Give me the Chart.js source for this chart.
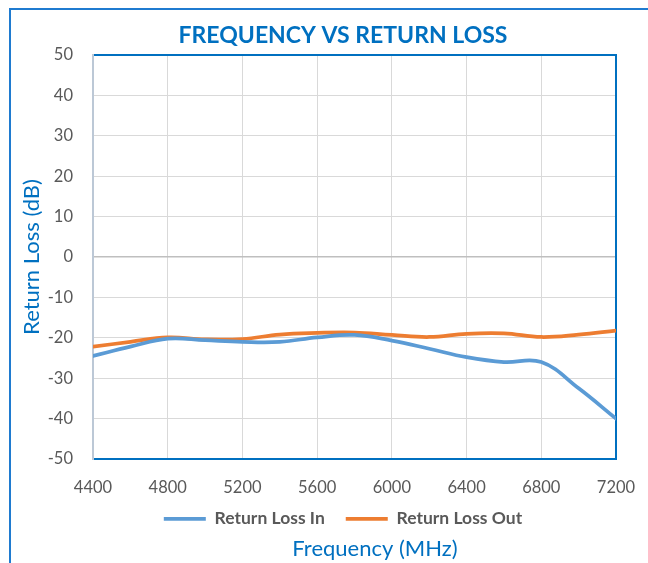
<!DOCTYPE html>
<html>
<head>
<meta charset="utf-8">
<script src="https://cdn.jsdelivr.net/npm/chart.js@4/dist/chart.umd.min.js"></script>
<style>
  html, body { margin: 0; padding: 0; overflow: hidden; background: #ffffff; width: 648px; height: 563px; }
  #wrap { position: absolute; left: 9px; top: 8px; width: 664px; height: 553px;
          border-left: 2px solid #1F7BD0; border-top: 2px solid #1F7BD0; }
  #wrap canvas { display: block; }
</style>
</head>
<body>
<div id="wrap"><canvas id="c"></canvas></div>
<script>
// ---- data ----
const chartTitle = "FREQUENCY VS RETURN LOSS";
const xAxisTitle = "Frequency (MHz)";
const yAxisTitle = "Return Loss (dB)";
const seriesNames = ["Return Loss In", "Return Loss Out"];
const frequencies = [4400, 4600, 4800, 5000, 5200, 5400, 5600, 5800, 6000, 6200, 6400, 6600, 6800, 7000, 7200];
const returnLossIn  = [-24.5, -22.2, -20.2, -20.6, -21.0, -21.0, -19.9, -19.3, -20.7, -22.7, -24.8, -26.0, -26.0, -32.5, -40.0];
const returnLossOut = [-22.2, -21.0, -19.9, -20.4, -20.3, -19.2, -18.8, -18.7, -19.3, -19.8, -19.0, -18.9, -19.8, -19.2, -18.2];
const xTicks = { min: 4400, max: 7200, step: 400 };
const yTicks = { min: -50, max: 50, step: 10 };

const BLUE = "#0070C0";
const GRAY = "#595959";

const toPoints = (vals) => frequencies.map((f, i) => ({ x: f, y: vals[i] }));

const shiftSubtitle = {
  id: "shiftSubtitle",
  afterLayout(chart) {
    chart.boxes.forEach(b => {
      if (b.options && b.options.text === xAxisTitle && b.options.position === "bottom" && b.legendItems === undefined && b.type === undefined) {
        b.left += 32; b.right += 32;
      }
    });
  }
};

new Chart(document.getElementById("c"), {
  type: "line",
  data: {
    datasets: [
      { label: seriesNames[0], data: toPoints(returnLossIn), borderColor: "#5B9BD5", backgroundColor: "#5B9BD5",
        borderWidth: 3.75, pointRadius: 0, tension: 0.4, borderCapStyle: "round", borderJoinStyle: "round" },
      { label: seriesNames[1], data: toPoints(returnLossOut), borderColor: "#ED7D31", backgroundColor: "#ED7D31",
        borderWidth: 3.75, pointRadius: 0, tension: 0.4, borderCapStyle: "round", borderJoinStyle: "round" }
    ]
  },
  options: {
    responsive: true,
    maintainAspectRatio: false,
    animation: false,
    layout: { padding: 0 },
    plugins: {
      tooltip: { enabled: false },
      title: {
        display: true, text: chartTitle, color: BLUE,
        font: { family: "Lato", size: 23, weight: "bold", lineHeight: 1.2 },
        padding: { top: 12, bottom: 5.4 }
      },
      subtitle: {
        display: true, text: xAxisTitle, position: "bottom", color: BLUE,
        font: { family: "Lato", size: 22, weight: "normal", lineHeight: 1 },
        padding: { top: 0, bottom: 3.5 }
      },
      legend: {
        position: "bottom",
        labels: {
          usePointStyle: true, pointStyle: "line", pointStyleWidth: 42,
          boxHeight: 17.5, padding: 21, color: GRAY,
          font: { family: "Lato", size: 17.5, weight: "bold" }
        }
      }
    },
    scales: {
      x: {
        type: "linear", position: "bottom", min: xTicks.min, max: xTicks.max,
        afterFit(s) { s.height = 30; s._computeLabelArea = () => undefined; },
        ticks: { stepSize: xTicks.step, color: GRAY, padding: 19, font: { family: "Lato", size: 16.5 },
                 callback: v => String(v), maxRotation: 0 },
        grid: { color: "#D9D9D9", lineWidth: 1, drawTicks: false },
        border: { display: true, color: BLUE, width: 2 }
      },
      x2: {
        type: "linear", position: "top", min: xTicks.min, max: xTicks.max,
        afterFit(s) { s.height = 0; },
        ticks: { display: false }, grid: { display: false, drawTicks: false },
        border: { display: true, color: BLUE, width: 2 }
      },
      y: {
        type: "linear", position: "left", min: yTicks.min, max: yTicks.max,
        afterFit(s) { s.width = 82; },
        ticks: { stepSize: yTicks.step, color: GRAY, padding: 20, font: { family: "Lato", size: 16.5 },
                 callback: v => String(v) },
        grid: {
          drawTicks: false,
          color: ctx => (ctx.tick && ctx.tick.value === 0) ? "#BFBFBF" : "#D9D9D9",
          lineWidth: ctx => (ctx.tick && ctx.tick.value === 0) ? 1.5 : 1
        },
        border: { display: true, color: "#BCC8D6", width: 2 },
        title: { display: true, text: yAxisTitle, color: BLUE, padding: { top: 8, bottom: 0 },
                 font: { family: "Lato", size: 22, weight: "normal" } }
      },
      y2: {
        type: "linear", position: "right", min: yTicks.min, max: yTicks.max,
        afterFit(s) { s.width = 59; },
        ticks: { display: false }, grid: { display: false, drawTicks: false },
        border: { display: true, color: BLUE, width: 2 }
      }
    }
  },
  plugins: [shiftSubtitle]
});
</script>
</body>
</html>
